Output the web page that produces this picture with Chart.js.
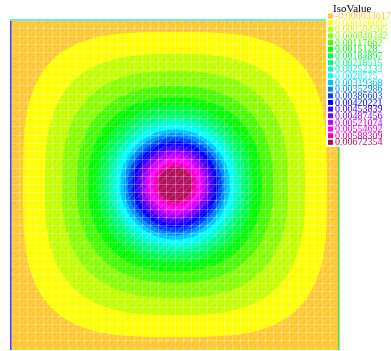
<!DOCTYPE html>
<html>
<head>
<meta charset="utf-8">
<script src="https://cdn.jsdelivr.net/npm/chart.js@4.4.0/dist/chart.umd.min.js"></script>
<style>
  html, body { margin: 0; padding: 0; background: #ffffff; }
  canvas { display: block; }
</style>
</head>
<body>
<canvas id="iso" width="391" height="351"></canvas>
<script>
// Iso values listed in the legend (min, 18 iso levels, max)
const isoLabels = [
  "-0.000033617", "0.000168095", "0.000504285", "0.000840442", "0.00117662",
  "0.0015128", "0.00184897", "0.00218515", "0.00252133", "0.0028575",
  "0.00319368", "0.00352986", "0.00386603", "0.00420221", "0.00453839",
  "0.00487456", "0.00521074", "0.00554692", "0.00588309", "0.00672354"
];

// Outer half-width of each filled iso band on the square domain [-1, 1] x [-1, 1]
// (band 0 is the whole square)
const bandHalfWidth = [
  1.000, 0.927, 0.793, 0.689, 0.598, 0.530, 0.476, 0.433, 0.396, 0.366,
  0.335, 0.311, 0.287, 0.262, 0.238, 0.213, 0.189, 0.165, 0.134, 0.106
];

// Superellipse exponent of each band outline (outer levels are squarer)
const bandRoundness = [
  null, 3.3, 2.9, 2.6, 2.4, 2.3, 2.2, 2.15, 2.1, 2.05,
  2.0, 2.0, 2.0, 2.0, 2.0, 2.0, 2.0, 2.0, 2.0, 2.0
];

// Palette, one colour per iso level
const bandColors = [
  "#ffc832", "#ffff00", "#c4ff00", "#88ff00", "#44ff00",
  "#00ff00", "#00ff40", "#00ff80", "#00ffc0", "#00ffff",
  "#00c4ff", "#0088ff", "#0044ff", "#0000ff", "#4400ff",
  "#8800ff", "#c400ff", "#ff00ff", "#f000b0", "#b0105a"
];

// Mesh: 40 x 40 cells over the domain
const meshStep = 0.05;

function outline(k) {
  const a = bandHalfWidth[k];
  const n = bandRoundness[k];
  if (n === null) {
    return [{x: -a, y: -a}, {x: a, y: -a}, {x: a, y: a}, {x: -a, y: a}, {x: -a, y: -a}];
  }
  const pts = [];
  const N = 160;
  for (let i = 0; i <= N; i++) {
    const t = (i / N) * Math.PI * 2;
    const c = Math.cos(t), s = Math.sin(t);
    pts.push({
      x: a * Math.sign(c) * Math.pow(Math.abs(c), 2 / n),
      y: a * Math.sign(s) * Math.pow(Math.abs(s), 2 / n)
    });
  }
  return pts;
}

const datasets = isoLabels.map((lab, k) => ({
  label: lab,
  data: outline(k),
  showLine: true,
  fill: 'shape',
  backgroundColor: bandColors[k],
  borderColor: 'rgba(0,0,0,0)',
  borderWidth: 1,
  pointRadius: 0,
  tension: 0,
  order: isoLabels.length - k
}));

// Diagonal mesh edges, drawn over the filled bands
const meshDiagonals = {
  id: 'meshDiagonals',
  afterDatasetsDraw(chart) {
    const {ctx, chartArea: ca, scales: {x, y}} = chart;
    ctx.save();
    ctx.beginPath();
    ctx.rect(ca.left, ca.top, ca.right - ca.left, ca.bottom - ca.top);
    ctx.clip();
    ctx.strokeStyle = 'rgba(255,255,255,0.22)';
    ctx.lineWidth = 1;
    const cells = Math.round(2 / meshStep);
    for (let i = -cells; i <= cells; i++) {
      const c = i * meshStep;
      ctx.beginPath();
      ctx.moveTo(x.getPixelForValue(-1), y.getPixelForValue(-1 + c));
      ctx.lineTo(x.getPixelForValue(1), y.getPixelForValue(1 + c));
      ctx.stroke();
    }
    ctx.restore();
  }
};

// Iso value legend box at the top right
const isoLegend = {
  id: 'isoLegend',
  afterDraw(chart) {
    const ctx = chart.ctx;
    ctx.save();
    ctx.fillStyle = '#ffffff';
    ctx.fillRect(326, 0, 65, 147);
    ctx.fillStyle = '#000000';
    ctx.font = '11px "Liberation Serif", "DejaVu Serif", serif';
    ctx.textBaseline = 'alphabetic';
    ctx.fillText('IsoValue', 333, 12);
    ctx.font = '10px "Liberation Serif", "DejaVu Serif", serif';
    ctx.textBaseline = 'middle';
    isoLabels.forEach((lab, k) => {
      const yc = 16 + k * 6.65;
      ctx.fillStyle = bandColors[k];
      ctx.fillRect(328, yc - 2.5, 5, 5);
      ctx.fillText(lab, 335, yc + 0.5);
    });
    ctx.restore();
  }
};

const meshGrid = { color: 'rgba(255,255,255,0.28)', drawTicks: false, z: 1 };

new Chart(document.getElementById('iso'), {
  type: 'scatter',
  data: { datasets },
  options: {
    responsive: false,
    devicePixelRatio: 1,
    animation: false,
    events: [],
    layout: { padding: { left: 11, top: 20, right: 52, bottom: 2 } },
    plugins: {
      legend: { display: false },
      tooltip: { enabled: false },
      filler: { propagate: false }
    },
    scales: {
      x: {
        type: 'linear', min: -1, max: 1,
        ticks: { display: false, stepSize: meshStep, maxTicksLimit: 100 },
        grid: meshGrid,
        border: { display: true, color: '#ffd24a', width: 1, z: 2 }
      },
      y: {
        type: 'linear', min: -1, max: 1,
        ticks: { display: false, stepSize: meshStep, maxTicksLimit: 100 },
        grid: meshGrid,
        border: { display: true, color: '#4040ff', width: 1.5, z: 2 }
      },
      xTop: {
        type: 'linear', axis: 'x', position: 'top', min: -1, max: 1,
        ticks: { display: false }, grid: { display: false, drawTicks: false },
        border: { display: true, color: '#5cf2e0', width: 2, z: 2 }
      },
      yRight: {
        type: 'linear', axis: 'y', position: 'right', min: -1, max: 1,
        ticks: { display: false }, grid: { display: false, drawTicks: false },
        border: { display: true, color: '#3ce03c', width: 1.5, z: 2 }
      }
    }
  },
  plugins: [meshDiagonals, isoLegend]
});
</script>
</body>
</html>
